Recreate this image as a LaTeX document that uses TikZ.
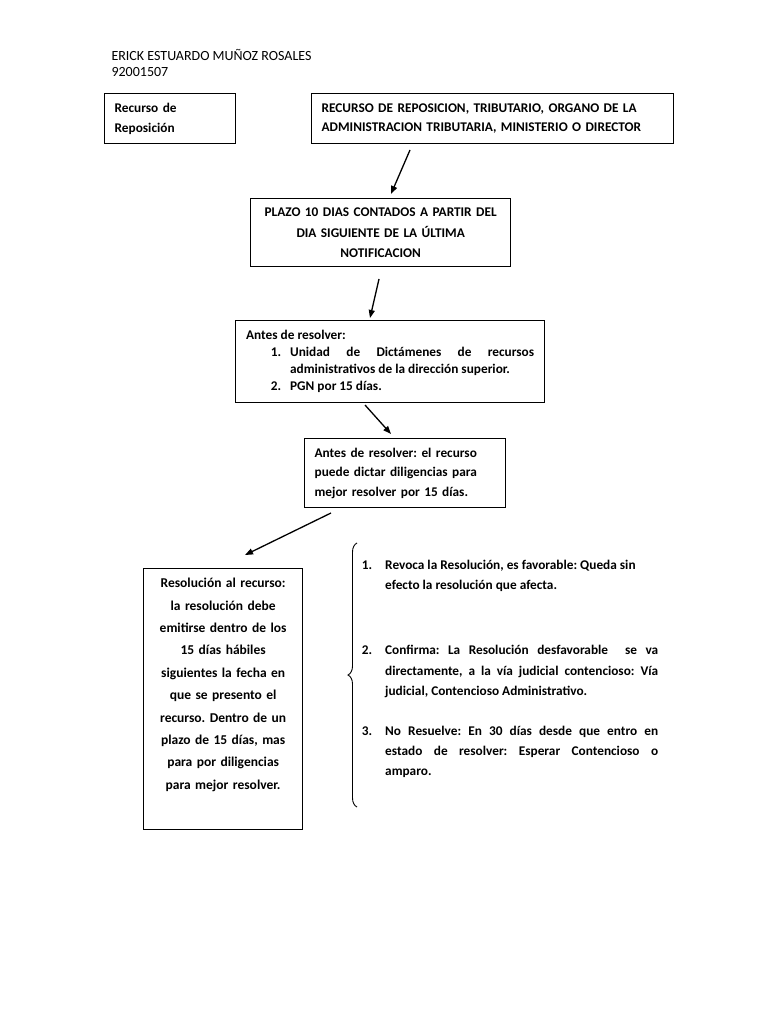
\documentclass[tikz,border=0pt]{standalone}
\usepackage{fontspec}
\setmainfont{Carlito}
\usetikzlibrary{positioning}
\usetikzlibrary{arrows.meta}
\usetikzlibrary{decorations.pathreplacing}
\tikzset{
    cajan/.style = {rectangle, line width=1.3pt, draw=black, anchor=north west, inner ysep=2pt,font=\fontsize{13.3}{19.5}\selectfont\bfseries},
    cajal/.style = {cajan, align=left},
    cajac/.style = {cajan, align=center},
    cajaj/.style = {cajan, align=justify},
    flecha/.style = {-{Triangle[length=8pt,width=6pt]},line width=1.3pt},
    llave/.style = {decorate,decoration={brace,amplitude=9pt},line width=0.9pt},
}
\newcommand{\itemn}[2]{\par\noindent\llap{#1\hspace{#2}}}

\begin{document}
\frenchspacing\hyphenpenalty=10000\exhyphenpenalty=10000
\begin{tikzpicture}[x=1pt,y=-1pt]
\fill[white] (0,0) rectangle (768,1024);
\node[anchor=west,align=left,font=\fontsize{14}{16.5}\selectfont] at (108,63) (autor) {ERICK ESTUARDO MUÑOZ ROSALES\\92001507};
%
\node[cajal, minimum width=131, minimum height=50, inner xsep=10, text width=111] at (104,93) (reca) {Recurso de\\Reposición};
\node[cajal, minimum width=362, minimum height=50, inner xsep=10, text width=342] at (311,93) (recb) {RECURSO DE REPOSICION, TRIBUTARIO, ORGANO DE LA\\ADMINISTRACION TRIBUTARIA, MINISTERIO O DIRECTOR};
\node[cajac, minimum width=260, minimum height=68, inner xsep=10, text width=240] at (250,198) (plazo) {\vspace*{2pt}PLAZO 10 DIAS CONTADOS A PARTIR DEL\\DIA SIGUIENTE DE LA ÚLTIMA\\NOTIFICACION};
\node[cajaj, minimum width=309, minimum height=82, inner xsep=10.5, text width=288] at (235,320) (antes) {\baselineskip=17pt Antes de resolver:\par\leftskip=44pt
  \itemn{1.}{9pt}Unidad de Dictámenes de recursos\linebreak administrativos de la dirección superior.
  \itemn{2.}{9pt}PGN por 15 días.\par};
\node[cajal, minimum width=201, minimum height=69, inner xsep=10, text width=181] at (304,438) (dilig) {Antes de resolver: el recurso\\puede dictar diligencias para\\mejor resolver por 15 días.};
\node[cajac, minimum width=159, minimum height=261, inner xsep=4, text width=151] at (143,568) (resol) {\parbox[c][252pt][t]{151pt}{\centering\fontsize{13.5}{22.4}\selectfont
  \vspace*{5pt}Resolución al recurso:\\la resolución debe\\emitirse dentro de los\\15 días hábiles\\siguientes la fecha en\\que se presento el\\recurso. Dentro de un\\plazo de 15 días, mas\\para por diligencias\\para mejor resolver.}};
\node[anchor=north west, align=justify, inner sep=0pt, text width=273, font=\fontsize{13.3}{20.2}\selectfont\bfseries] at (385,549) (lista) {%
  \itemn{1.}{13pt}Revoca la Resolución, es favorable: Queda sin\\efecto la resolución que afecta.\par\vspace{45pt}
  \itemn{2.}{13pt}Confirma: La Resolución desfavorable \ se va\linebreak directamente, a la vía judicial contencioso: Vía\linebreak judicial, Contencioso Administrativo.\par\vspace{20pt}
  \itemn{3.}{13pt}No Resuelve: En 30 días desde que entro en\linebreak estado de resolver: Esperar Contencioso o\linebreak amparo.\par};
%
\coordinate (a1) at (410,150);
\coordinate (b1) at (391,194);
\coordinate (a2) at (379,279);
\coordinate (b2) at (370,318);
\coordinate (a3) at (365,405);
\coordinate (b3) at (391,434);
\coordinate (a4) at (331,513);
\coordinate (b4) at (245,555);
\coordinate (lla) at (357,807);
\coordinate (llb) at (357,543);
%
\draw[flecha] (a1) -- (b1);
\draw[flecha] (a2) -- (b2);
\draw[flecha] (a3) -- (b3);
\draw[flecha] (a4) -- (b4);
\draw[llave] (lla) -- (llb);
\end{tikzpicture}
\end{document}
